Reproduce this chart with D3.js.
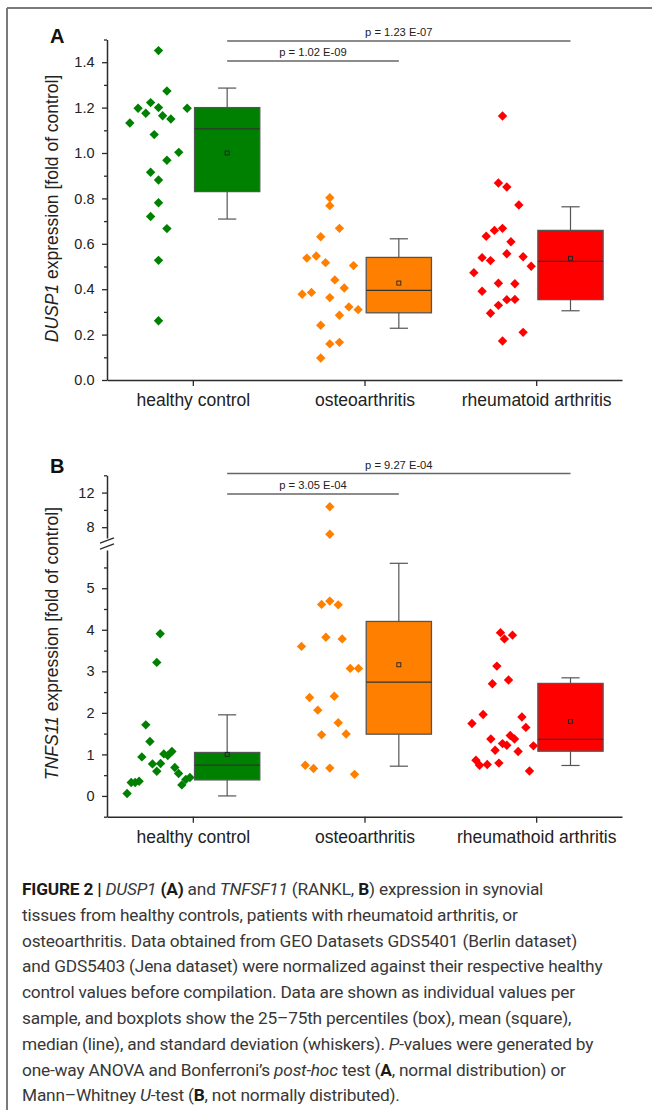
<!DOCTYPE html>
<html><head><meta charset="utf-8">
<script src="https://cdn.jsdelivr.net/npm/d3@7"></script>
<style>
html,body{margin:0;padding:0;background:#fff;}
svg{display:block;}
</style></head><body>
<svg id="chart" width="652" height="1110"></svg>
<script>
// ---------------- DATA ----------------
const categoriesA = ["healthy control", "osteoarthritis", "rheumatoid arthritis"];
const categoriesB = ["healthy control", "osteoarthritis", "rheumathoid arthritis"];

// Panel A: DUSP1 individual values (fold of control) and horizontal jitter (category units)
const dusp1Healthy = [1.451,1.273,1.197,1.222,1.200,1.197,1.132,1.175,1.164,1.150,1.081,1.003,0.968,0.915,0.881,0.781,0.720,0.667,0.527,0.261];
const dusp1HealthyJitter = [-0.200,-0.151,-0.319,-0.246,-0.200,-0.033,-0.367,-0.274,-0.176,-0.128,-0.225,-0.082,-0.151,-0.246,-0.200,-0.200,-0.246,-0.151,-0.200,-0.200];
const dusp1OA = [0.803,0.768,0.668,0.631,0.537,0.546,0.517,0.504,0.441,0.405,0.378,0.386,0.363,0.322,0.310,0.285,0.241,0.159,0.166,0.097];
const dusp1OAJitter = [-0.202,-0.202,-0.146,-0.255,-0.336,-0.281,-0.227,-0.064,-0.173,-0.118,-0.363,-0.309,-0.202,-0.091,-0.037,-0.146,-0.255,-0.202,-0.146,-0.255];
const dusp1RA = [1.163,0.868,0.850,0.771,0.659,0.668,0.633,0.609,0.556,0.539,0.526,0.543,0.501,0.473,0.426,0.424,0.391,0.354,0.355,0.329,0.294,0.210,0.172];
const dusp1RAJitter = [-0.196,-0.220,-0.171,-0.101,-0.243,-0.196,-0.291,-0.147,-0.171,-0.315,-0.266,-0.076,-0.029,-0.363,-0.220,-0.124,-0.315,-0.171,-0.124,-0.220,-0.266,-0.076,-0.196];

// Panel A box statistics (healthy, OA, RA)
const dusp1Q1 = [0.830, 0.296, 0.354];
const dusp1Q3 = [1.200, 0.540, 0.659];
const dusp1Median = [1.106, 0.395, 0.523];
const dusp1Mean = [1.000, 0.427, 0.536];
const dusp1WhiskerLow = [0.709, 0.228, 0.305];
const dusp1WhiskerHigh = [1.286, 0.622, 0.763];

// Panel B: TNFSF11 individual values
const tnfHealthy = [3.904,3.214,1.711,1.311,0.940,0.771,0.781,0.595,1.012,0.973,1.070,0.684,0.540,0.265,0.395,0.443,0.323,0.323,0.354,0.058];
const tnfHealthyJitter = [-0.190,-0.210,-0.274,-0.250,-0.297,-0.235,-0.188,-0.210,-0.169,-0.146,-0.122,-0.105,-0.083,-0.064,-0.041,-0.017,-0.359,-0.336,-0.313,-0.383];
const tnfOA = [10.37,7.18,4.69,4.61,4.60,3.82,3.78,3.60,3.07,3.07,2.37,2.40,2.065,1.76,1.47,1.49,0.74,0.66,0.67,0.52];
const tnfOAJitter = [-0.202,-0.202,-0.202,-0.250,-0.153,-0.225,-0.130,-0.367,-0.083,-0.035,-0.320,-0.176,-0.272,-0.153,-0.250,-0.107,-0.345,-0.297,-0.202,-0.058];
const tnfRA = [3.93,3.78,3.87,3.125,2.70,2.79,1.96,1.745,1.90,1.65,1.37,1.455,1.37,1.26,1.22,1.10,1.07,1.205,0.86,0.74,0.755,0.79,0.60];
const tnfRAJitter = [-0.208,-0.185,-0.138,-0.229,-0.255,-0.161,-0.309,-0.374,-0.083,-0.060,-0.264,-0.151,-0.126,-0.196,-0.171,-0.239,-0.105,-0.016,-0.351,-0.330,-0.285,-0.217,-0.039];

// Panel B box statistics
const tnfQ1 = [0.386, 1.487, 1.077];
const tnfQ3 = [1.046, 4.200, 2.708];
const tnfMedian = [0.740, 2.740, 1.359];
const tnfMean = [1.000, 3.157, 1.793];
const tnfWhiskerLow = [0.000, 0.716, 0.733];
const tnfWhiskerHigh = [1.952, 5.600, 2.843];

// Significance comparisons (group indices, 1-based) and labels
const comparisons = [[1, 2], [1, 3]];
const pLabelsA = ["p = 1.02 E-09", "p = 1.23 E-07"];
const pLabelsB = ["p = 3.05 E-04", "p = 9.27 E-04"];

// Tick values
const ticksA = [0, 0.2, 0.4, 0.6, 0.8, 1.0, 1.2, 1.4];
const minorTicksA = [0.1, 0.3, 0.5, 0.7, 0.9, 1.1, 1.3, 1.5];
const ticksBLower = [0, 1, 2, 3, 4, 5];
const minorTicksBLower = [-0.5, 0.5, 1.5, 2.5, 3.5, 4.5, 5.5];
const ticksBUpper = [8, 12];
const minorTicksBUpper = [10, 14];

// ---------------- STYLE ----------------
const groupColors = ["#008000", "#FF8000", "#FF0000"];
const FONT = "'Liberation Sans', Arial, sans-serif";
const AXIS_COLOR = "#2b2b2b";

const svg = d3.select("#chart");

// frame lines
svg.append("line").attr("x1", 7).attr("x2", 652).attr("y1", 8).attr("y2", 8)
  .attr("stroke", "#7a7a7a").attr("stroke-width", 2);
svg.append("line").attr("x1", 7).attr("x2", 7).attr("y1", 8).attr("y2", 1110)
  .attr("stroke", "#7a7a7a").attr("stroke-width", 2);

const x = d3.scaleLinear().domain([0.5, 3.5]).range([107, 622]);
const boxOffset = 0.2, boxHalf = 0.19, capHalf = 0.053;

const diamond = d3.symbol().type(d3.symbolSquare).size(44);

function styleAxis(g) {
  g.attr("color", AXIS_COLOR);
  g.selectAll("path.domain").attr("stroke-width", 1.5);
  g.selectAll(".tick line").attr("stroke-width", 1.3);
}

function drawPanel(cfg) {
  const g = svg.append("g");
  const yf = cfg.y;

  // significance bars
  comparisons.forEach((c, i) => {
    const x1 = x(c[0] + boxOffset), x2 = x(c[1] + boxOffset);
    const yy = cfg.barY[i];
    g.append("line").attr("x1", x1).attr("x2", x2).attr("y1", yy).attr("y2", yy)
      .attr("stroke", "#666").attr("stroke-width", 1.4);
    g.append("text").attr("x", (x1 + x2) / 2).attr("y", yy - 5)
      .attr("text-anchor", "middle").attr("font-family", FONT).attr("font-size", 11.2)
      .attr("fill", "#222").text(cfg.pLabels[i]);
  });

  // boxes
  cfg.groups.forEach((grp, i) => {
    const cx = x(i + 1 + boxOffset);
    const left = x(i + 1 + boxOffset - boxHalf), right = x(i + 1 + boxOffset + boxHalf);
    const capL = x(i + 1 + boxOffset - capHalf), capR = x(i + 1 + boxOffset + capHalf);
    const wcol = "#555";
    g.append("line").attr("x1", cx).attr("x2", cx).attr("y1", yf(cfg.q3[i])).attr("y2", yf(cfg.hi[i]))
      .attr("stroke", wcol).attr("stroke-width", 1.2);
    g.append("line").attr("x1", cx).attr("x2", cx).attr("y1", yf(cfg.q1[i])).attr("y2", yf(cfg.lo[i]))
      .attr("stroke", wcol).attr("stroke-width", 1.2);
    [cfg.hi[i], cfg.lo[i]].forEach(v => {
      g.append("line").attr("x1", capL).attr("x2", capR).attr("y1", yf(v)).attr("y2", yf(v))
        .attr("stroke", wcol).attr("stroke-width", 1.2);
    });
    g.append("rect").attr("x", left).attr("width", right - left)
      .attr("y", yf(cfg.q3[i])).attr("height", yf(cfg.q1[i]) - yf(cfg.q3[i]))
      .attr("fill", groupColors[i]).attr("stroke", "#555").attr("stroke-width", 1.3);
    g.append("line").attr("x1", left).attr("x2", right).attr("y1", yf(cfg.median[i])).attr("y2", yf(cfg.median[i]))
      .attr("stroke", "#333").attr("stroke-width", 1.2);
    g.append("rect").attr("x", cx - 2).attr("y", yf(cfg.mean[i]) - 2).attr("width", 4).attr("height", 4)
      .attr("fill", "none").attr("stroke", "#222").attr("stroke-width", 0.9);
  });

  // points
  cfg.groups.forEach((grp, i) => {
    g.append("g").selectAll("path").data(grp.values.map((v, k) => ({ v, j: grp.jitter[k] })))
      .join("path")
      .attr("d", diamond)
      .attr("transform", d => `translate(${x(i + 1 + d.j)},${yf(d.v)}) rotate(45)`)
      .attr("fill", groupColors[i]);
  });

  // x axis
  const xa = g.append("g").attr("transform", `translate(0,${cfg.xAxisY})`)
    .call(d3.axisBottom(x).tickValues([1, 2, 3]).tickFormat(d => cfg.categories[d - 1])
      .tickSize(6).tickSizeOuter(0).tickPadding(7.5));
  styleAxis(xa);
  xa.selectAll("text").attr("font-family", FONT).attr("font-size", 17.5).attr("fill", "#222");

  // panel letter
  g.append("text").attr("x", 50).attr("y", cfg.letterY).attr("font-family", FONT)
    .attr("font-weight", "bold").attr("font-size", 20).attr("fill", "#111").text(cfg.letter);

  // y label
  const yl = g.append("text").attr("transform", `translate(58,${cfg.yLabelY}) rotate(-90)`)
    .attr("text-anchor", "middle").attr("font-family", FONT).attr("font-size", 17.5).attr("fill", "#222");
  yl.append("tspan").attr("font-style", "italic").text(cfg.gene);
  yl.append("tspan").text(" expression [fold of control]");
  return g;
}

function yAxis(g, scale, major, minor, fmt) {
  const a = g.append("g").attr("transform", "translate(107,0)")
    .call(d3.axisLeft(scale).tickValues(major).tickFormat(fmt).tickSize(5).tickSizeOuter(0).tickPadding(7.5));
  styleAxis(a);
  a.selectAll("text").attr("font-family", FONT).attr("font-size", 14.5).attr("fill", "#222");
  const m = g.append("g").attr("transform", "translate(107,0)")
    .call(d3.axisLeft(scale).tickValues(minor).tickFormat("").tickSize(3).tickSizeOuter(0));
  styleAxis(m);
  m.select("path.domain").remove();
}

// ---------------- PANEL A ----------------
const yA = d3.scaleLinear().domain([0, 1.5]).range([380, 39.5]);
const gA = drawPanel({
  y: yA, xAxisY: 380, categories: categoriesA, letter: "A", letterY: 42.5, yLabelY: 208.5,
  gene: "DUSP1", pLabels: pLabelsA, barY: [61, 41],
  groups: [
    { values: dusp1Healthy, jitter: dusp1HealthyJitter },
    { values: dusp1OA, jitter: dusp1OAJitter },
    { values: dusp1RA, jitter: dusp1RAJitter }
  ],
  q1: dusp1Q1, q3: dusp1Q3, median: dusp1Median, mean: dusp1Mean, lo: dusp1WhiskerLow, hi: dusp1WhiskerHigh
});
yAxis(gA, yA, ticksA, minorTicksA, d3.format(".1f"));

// ---------------- PANEL B (broken axis) ----------------
const yBLower = d3.scaleLinear().domain([-0.5, 5.92]).range([816.7, 550]);
const yBUpper = d3.scaleLinear().domain([6.75, 14]).range([538, 475.3]);
const yB = v => (v > 6.3 ? yBUpper(v) : yBLower(v));
const gB = drawPanel({
  y: yB, xAxisY: 816.7, categories: categoriesB, letter: "B", letterY: 472.5, yLabelY: 643.5,
  gene: "TNFS11", pLabels: pLabelsB, barY: [494, 473.5],
  groups: [
    { values: tnfHealthy, jitter: tnfHealthyJitter },
    { values: tnfOA, jitter: tnfOAJitter },
    { values: tnfRA, jitter: tnfRAJitter }
  ],
  q1: tnfQ1, q3: tnfQ3, median: tnfMedian, mean: tnfMean, lo: tnfWhiskerLow, hi: tnfWhiskerHigh
});
yAxis(gB, yBLower, ticksBLower, minorTicksBLower, d3.format("d"));
yAxis(gB, yBUpper, ticksBUpper, minorTicksBUpper, d3.format("d"));
// break marks
[540.5, 546.5].forEach(cy => {
  gB.append("line").attr("x1", 100).attr("x2", 114).attr("y1", cy + 2.6).attr("y2", cy - 2.6)
    .attr("stroke", AXIS_COLOR).attr("stroke-width", 1.3);
});

// ---------------- CAPTION ----------------
const captionLines = [
  [["FIGURE 2 | ", "b"], ["DUSP1", "i"], [" "], ["(A)", "b"], [" and "], ["TNFSF11", "i"], [" (RANKL, "], ["B", "b"], [") expression in synovial"]],
  [["tissues from healthy controls, patients with rheumatoid arthritis, or"]],
  [["osteoarthritis. Data obtained from GEO Datasets GDS5401 (Berlin dataset)"]],
  [["and GDS5403 (Jena dataset) were normalized against their respective healthy"]],
  [["control values before compilation. Data are shown as individual values per"]],
  [["sample, and boxplots show the 25\u201375th percentiles (box), mean (square),"]],
  [["median (line), and standard deviation (whiskers). "], ["P", "i"], ["-values were generated by"]],
  [["one-way ANOVA and Bonferroni\u2019s "], ["post-hoc", "i"], [" test ("], ["A", "b"], [", normal distribution) or"]],
  [["Mann\u2013Whitney "], ["U", "i"], ["-test ("], ["B", "b"], [", not normally distributed)."]]
];
const CAP_FONT = "Roboto, 'Liberation Sans', sans-serif";
const cap = svg.append("g");
captionLines.forEach((segs, li) => {
  const t = cap.append("text").attr("x", 22).attr("y", 895 + li * 25.8)
    .attr("font-family", CAP_FONT).attr("font-size", 17.3).attr("letter-spacing", -0.2)
    .attr("fill", "#383838");
  segs.forEach(s => {
    const sp = t.append("tspan").text(s[0]);
    if (s[1] === "b") sp.attr("font-weight", "bold").attr("fill", "#1a1a1a");
    if (s[1] === "i") sp.attr("font-style", "italic");
  });
});
</script>
</body></html>
